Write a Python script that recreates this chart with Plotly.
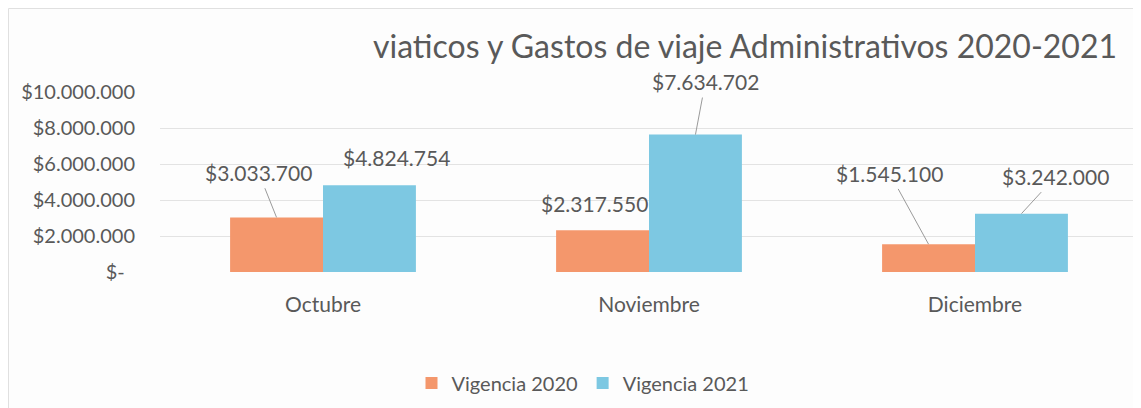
import plotly.graph_objects as go

categories = ["Octubre", "Noviembre", "Diciembre"]
vigencia_2020 = [3033700, 2317550, 1545100]
vigencia_2021 = [4824754, 7634702, 3242000]
labels_2020 = ["$3.033.700", "$2.317.550", "$1.545.100"]
labels_2021 = ["$4.824.754", "$7.634.702", "$3.242.000"]
tick_values = [0, 2000000, 4000000, 6000000, 8000000, 10000000]
tick_labels = ["$-\u00a0\u00a0", "$2.000.000", "$4.000.000", "$6.000.000", "$8.000.000", "$10.000.000"]

COLOR_2020 = "#F4976C"
COLOR_2021 = "#7DC8E2"
TEXT = "#595959"
FONT = "Lato, 'Open Sans', sans-serif"

W, H = 1133, 400
L, R, T, B = 152, 3, 84, 136
PW, PH = W - L - R, H - T - B

fig = go.Figure()
fig.add_trace(go.Bar(x=categories, y=vigencia_2020, name="Vigencia 2020",
                     marker=dict(color=COLOR_2020, line=dict(width=0))))
fig.add_trace(go.Bar(x=categories, y=vigencia_2021, name="Vigencia 2021",
                     marker=dict(color=COLOR_2021, line=dict(width=0))))

bargap = 0.43
bw = (1 - bargap) / 2
# label offsets (pixels) relative to bar tops: (ax, ay, show_leader)
off_2020 = [(-18, -45, True), (-8, -27, False), (-39, -71, True)]
off_2021 = [(27, -28, False), (10, -53, True), (34, -37, True)]

for i in range(len(categories)):
    for vals, labs, offs, shift in ((vigencia_2020, labels_2020, off_2020, -bw / 2),
                                    (vigencia_2021, labels_2021, off_2021, bw / 2)):
        ax, ay, lead = offs[i]
        fig.add_annotation(x=i + shift, y=vals[i], xref="x", yref="y",
                           text=labs[i], showarrow=True, arrowhead=0,
                           arrowwidth=1,
                           arrowcolor="#9a9a9a" if lead else "rgba(0,0,0,0)",
                           ax=ax, ay=ay, standoff=0, startstandoff=2,
                           font=dict(family=FONT, size=21, color=TEXT))

fig.add_shape(type="rect", xref="paper", yref="paper",
              x0=-(L - 0.5) / PW, x1=1 + (R - 0.5) / PW,
              y0=-(B + 5) / PH, y1=1 + (T - 0.5) / PH,
              line=dict(color="#e0e0e0", width=1), layer="below")

fig.update_layout(
    width=W, height=H,
    margin=dict(l=L, r=R, t=T, b=B, autoexpand=False),
    paper_bgcolor="#FDFDFD", plot_bgcolor="#FDFDFD",
    barmode="group", bargap=bargap, bargroupgap=0,
    font=dict(family=FONT, color=TEXT),
    title=dict(text="viaticos y Gastos de viaje Administrativos 2020-2021",
               xref="container", yref="container", x=737 / W, y=1 - 39 / H,
               xanchor="center", yanchor="middle",
               font=dict(family=FONT, size=32, color=TEXT)),
    legend=dict(orientation="h", xref="container", yref="container",
                x=575 / W, y=1 - 375 / H, xanchor="center", yanchor="middle",
                font=dict(family=FONT, size=20, color=TEXT),
                bgcolor="rgba(0,0,0,0)", itemwidth=30, traceorder="normal"),
    showlegend=True,
)
fig.update_xaxes(type="category", showgrid=False, showline=False, zeroline=False,
                 ticks="outside", ticklen=14, tickcolor="rgba(0,0,0,0)",
                 tickfont=dict(family=FONT, size=21, color=TEXT))
fig.update_yaxes(range=[0, 10000000], tickvals=tick_values, ticktext=tick_labels,
                 showgrid=True, gridcolor="#e3e3e3", gridwidth=1,
                 zeroline=False, showline=False,
                 ticks="outside", ticklen=20, tickcolor="rgba(0,0,0,0)",
                 tickfont=dict(family=FONT, size=20, color=TEXT))

fig.write_html("out.html")
